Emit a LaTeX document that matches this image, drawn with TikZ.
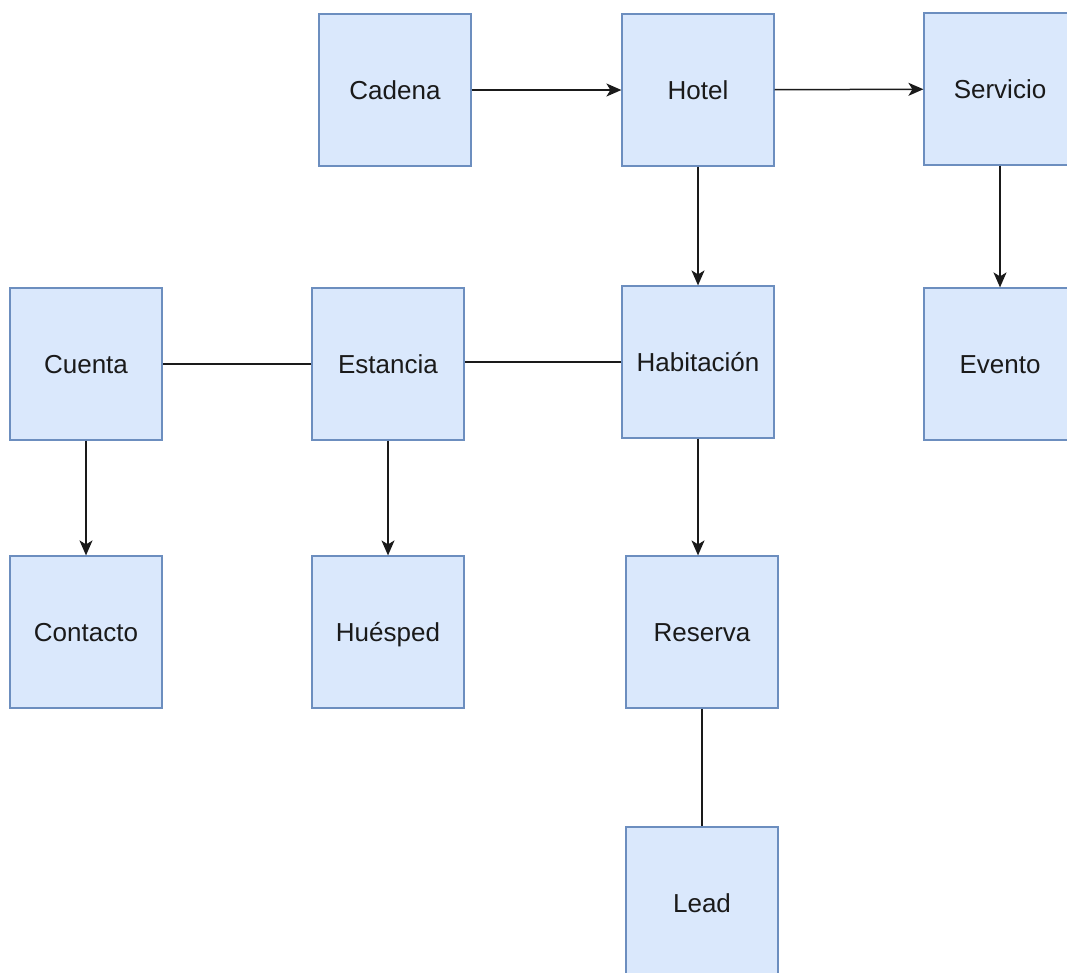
\documentclass[tikz,border=0pt]{standalone}
\usepackage{fontspec}
\setmainfont{Liberation Sans}
\usetikzlibrary{arrows.meta}
\definecolor{boxfill}{HTML}{DAE8FC}
\definecolor{boxline}{HTML}{6C8EBF}
\definecolor{ink}{HTML}{1A1A1A}
\begin{document}
\begin{tikzpicture}[x=1pt,y=-1pt,
  entity/.style={draw=boxline,fill=boxfill,line width=1.2pt,minimum width=152pt,minimum height=152pt,
    inner sep=0pt,text height=22pt,text depth=3pt,text=ink,font=\fontsize{26}{30}\selectfont},
  link/.style={draw=ink,line width=1.5pt},
  arrowlink/.style={link,-{Stealth[length=15pt,width=13pt,inset=4pt]}}]
\useasboundingbox[fill=white] (0,0) rectangle (1067,972);
% top row
\node[entity] (cadena) at (395,90) {Cadena};
\node[entity] (hotel) at (698,90) {Hotel};
\node[entity] (servicio) at (1000,89) {Servicio};
% middle row
\node[entity] (cuenta) at (86,364) {Cuenta};
\node[entity] (estancia) at (388,364) {Estancia};
\node[entity] (habitacion) at (698,362) {Habitación};
\node[entity] (evento) at (1000,364) {Evento};
% lower rows
\node[entity] (contacto) at (86,632) {Contacto};
\node[entity] (huesped) at (388,632) {Huésped};
\node[entity] (reserva) at (702,632) {Reserva};
\node[entity] (lead) at (702,903) {Lead};
% connectors
\draw[arrowlink] (cadena) -- (hotel);
\draw[arrowlink] (hotel) -- (servicio);
\draw[arrowlink] (hotel) -- (habitacion);
\draw[arrowlink] (servicio) -- (evento);
\draw[link] (habitacion.west) -- (estancia.east |- habitacion.west);
\draw[link] (estancia) -- (cuenta);
\draw[arrowlink] (cuenta) -- (contacto);
\draw[arrowlink] (estancia) -- (huesped);
\draw[arrowlink] (habitacion.south) -- (habitacion.south |- reserva.north);
\draw[link] (reserva) -- (lead);
\end{tikzpicture}
\end{document}
